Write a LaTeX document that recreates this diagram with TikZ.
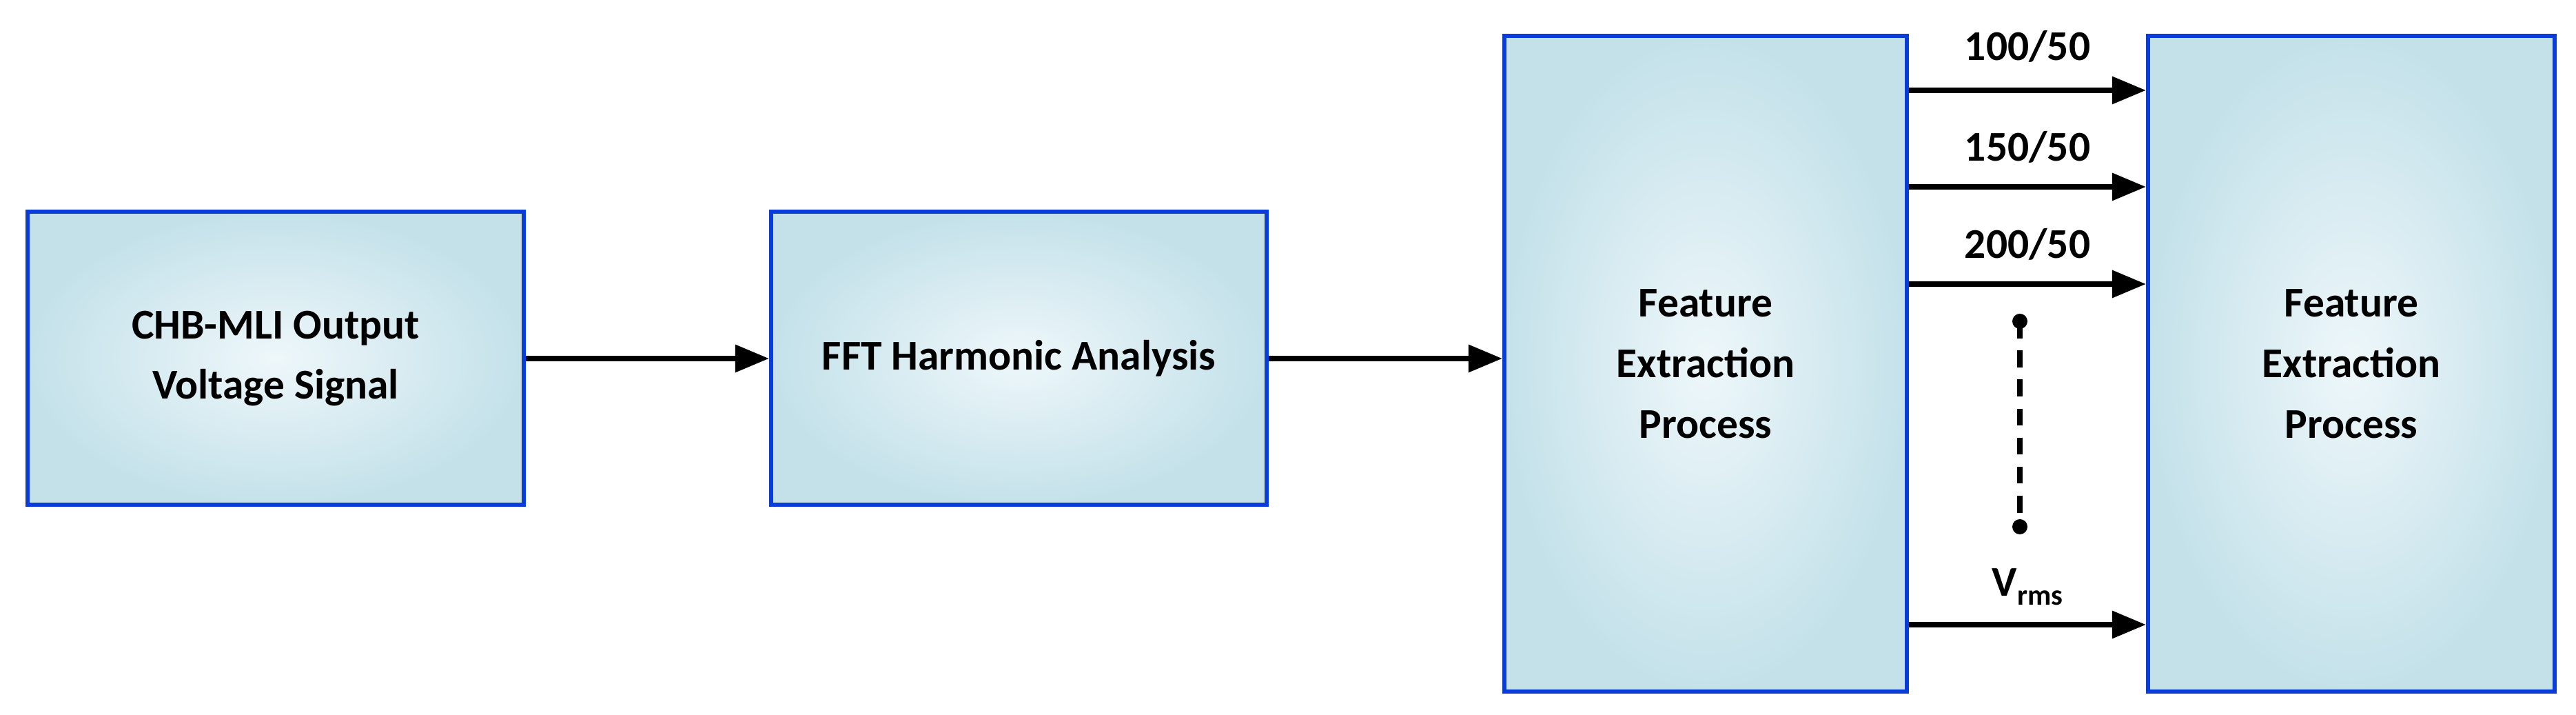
\documentclass[tikz,border=0pt]{standalone}
\usepackage{fontspec}
\setmainfont{Carlito}
\usetikzlibrary{arrows.meta}
\definecolor{bord}{RGB}{10,60,215}
\definecolor{boxout}{RGB}{196,225,234}
\definecolor{boxin}{RGB}{238,247,250}
\tikzset{
 blk/.style={draw=bord,line width=1.7pt,inner color=boxin,outer color=boxout,minimum width=#1,align=center,font=\fontsize{17.5}{25}\selectfont\bfseries,inner sep=0pt},
 arr/.style={line width=2.2pt,-{Triangle[length=14pt,width=11pt]}},
 lab/.style={font=\fontsize{17.5}{21}\selectfont\bfseries,inner sep=0pt}
}
\begin{document}
\begin{tikzpicture}
\useasboundingbox (0,0) rectangle (37.38,10.37);
\node[blk=7.2cm,minimum height=4.25cm] (a) at (4.00,5.17) {CHB-MLI Output\\Voltage Signal};
\node[blk=7.19cm,minimum height=4.25cm] (b) at (14.785,5.17) {FFT Harmonic Analysis};
\node[blk=5.84cm,minimum height=9.51cm] (c) at (24.75,5.095) {Feature\\Extraction\\Process};
\node[blk=5.9cm,minimum height=9.51cm] (d) at (34.12,5.095) {Feature\\Extraction\\Process};
\draw[arr] (a.east |- 0,5.17) -- (b.west |- 0,5.17);
\draw[arr] (b.east |- 0,5.17) -- (c.west |- 0,5.17);
\foreach \y/\n in {9.06/1,7.66/2,6.25/3,1.31/4}{
  \coordinate (s\n) at (c.east |- 0,\y);
  \coordinate (t\n) at (d.west |- 0,\y);
  \draw[arr] (s\n) -- (t\n);
}
\node[lab] (l1) at (29.42,9.70) {100/50};
\node[lab] (l2) at (29.42,8.24) {150/50};
\node[lab] (l3) at (29.42,6.83) {200/50};
\node[lab] (l4) at (29.42,1.86) {V\raisebox{-0.45ex}{\fontsize{12}{12}\selectfont rms}};
\coordinate (p1) at (29.31,5.71);
\coordinate (p2) at (29.31,2.73);
\draw[line width=2.2pt,dash pattern=on 7pt off 5pt] (p1) -- (p2);
\fill (p1) circle (0.11);
\fill (p2) circle (0.11);
\end{tikzpicture}
\end{document}
